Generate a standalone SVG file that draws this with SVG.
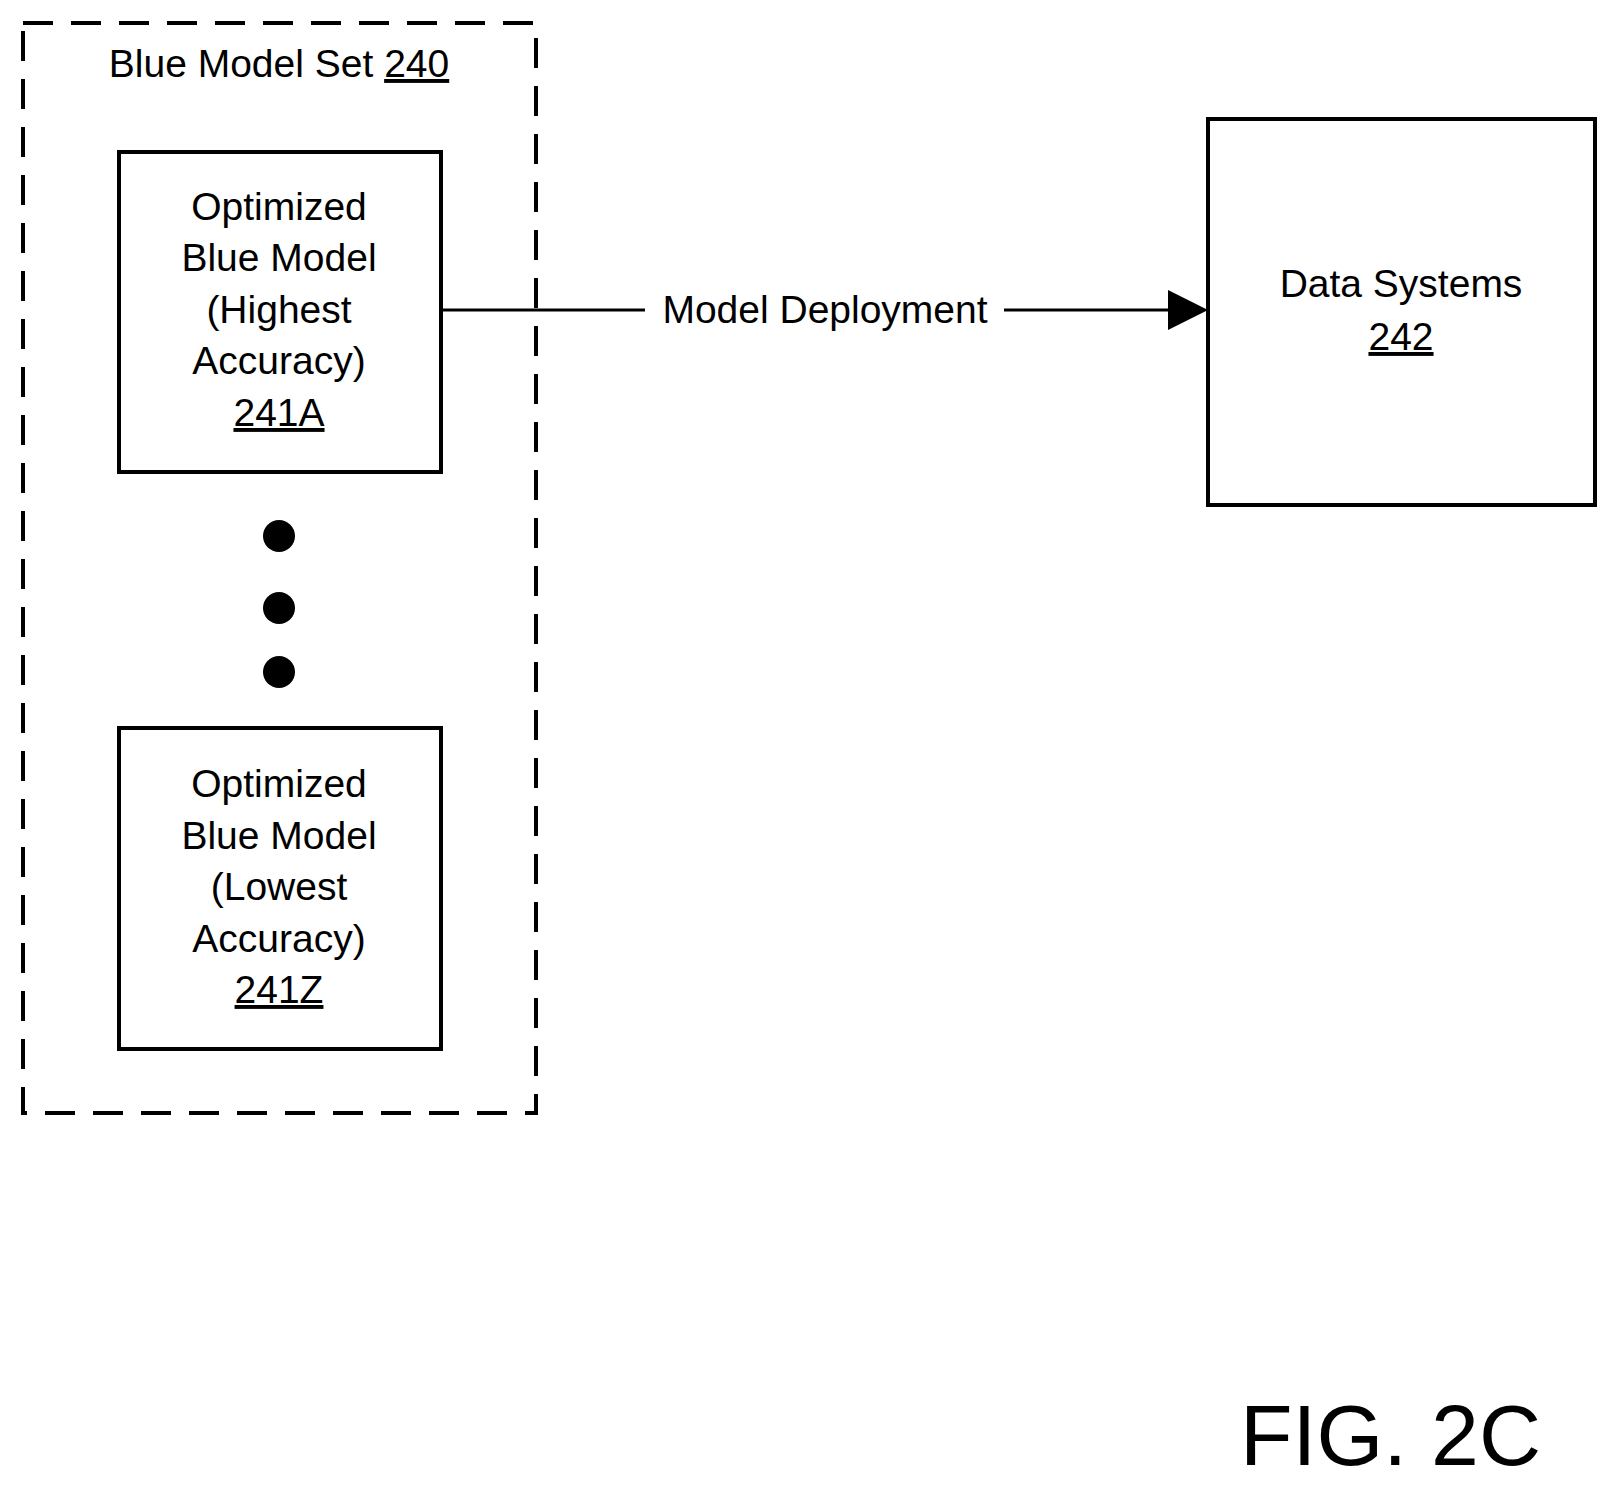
<svg xmlns="http://www.w3.org/2000/svg" width="1608" height="1486" viewBox="0 0 1608 1486">
<style>
text{font-family:"Liberation Sans",Arial,sans-serif;font-size:39px;fill:#000;text-anchor:middle}
.b{fill:#fff;stroke:#000;stroke-width:4}
</style>
<defs><marker id="ah" markerWidth="10" markerHeight="10" refX="10" refY="5" orient="auto" markerUnits="userSpaceOnUse" viewBox="0 0 10 10"><path d="M0,0L10,5L0,10z"/></marker></defs>
<rect width="1608" height="1486" fill="#fff"/>
<g id="set240">
<rect x="23" y="23" width="513" height="1090" fill="none" stroke="#000" stroke-width="4" stroke-dasharray="30,18"/>
<text x="279" y="77">Blue Model Set <tspan text-decoration="underline">240</tspan></text>
</g>
<g id="connectors">
<line x1="441" y1="310" x2="645" y2="310" stroke="#000" stroke-width="3"/>
<line x1="1004" y1="310" x2="1170" y2="310" stroke="#000" stroke-width="3"/>
<path d="M1168,290L1208,310L1168,330z"/>
<text x="825" y="323">Model Deployment</text>
</g>
<g id="n241A">
<rect class="b" x="119" y="152" width="322" height="320"/>
<text x="279" y="220">Optimized</text><text x="279" y="271">Blue Model</text><text x="279" y="323">(Highest</text><text x="279" y="374">Accuracy)</text><text x="279" y="426" text-decoration="underline">241A</text>
</g>
<g id="dots"><circle cx="279" cy="536" r="16"/><circle cx="279" cy="608" r="16"/><circle cx="279" cy="672" r="16"/></g>
<g id="n241Z">
<rect class="b" x="119" y="728" width="322" height="321"/>
<text x="279" y="797">Optimized</text><text x="279" y="849">Blue Model</text><text x="279" y="900">(Lowest</text><text x="279" y="952">Accuracy)</text><text x="279" y="1003" text-decoration="underline">241Z</text>
</g>
<g id="n242">
<rect class="b" x="1208" y="119" width="387" height="386"/>
<text x="1401" y="297">Data Systems</text><text x="1401" y="350" text-decoration="underline">242</text>
</g>
<text x="1240" y="1465" style="font-size:86px;text-anchor:start">FIG. 2C</text>
</svg>
